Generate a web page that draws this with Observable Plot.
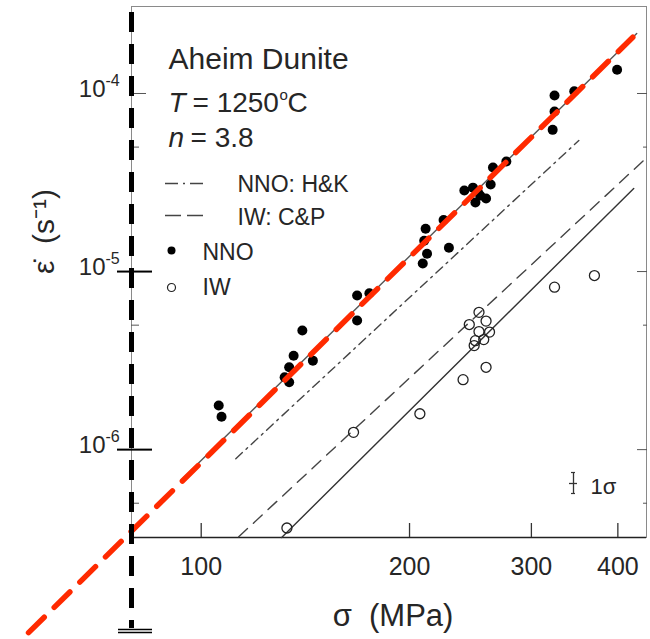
<!DOCTYPE html>
<html><head><meta charset="utf-8">
<script src="https://cdn.jsdelivr.net/npm/d3@7"></script>
<script src="https://cdn.jsdelivr.net/npm/@observablehq/plot@0.6"></script>
<style>body{margin:0;background:#fff;} svg{display:block}</style>
</head><body><div id="chart"></div>
<script>
// Stress (MPa) and strain rate (1/s)
const nnoStress = [106, 107, 132, 134, 134, 136, 140, 145, 168, 175, 168, 211, 210, 212, 209, 228, 224, 240, 247, 251, 253, 249, 258, 262, 264, 276, 324, 346, 324, 322, 399];
const nnoRate = [1.77e-6, 1.53e-6, 2.55e-6, 2.39e-6, 2.90e-6, 3.37e-6, 4.67e-6, 3.16e-6, 7.33e-6, 7.55e-6, 5.31e-6, 1.74e-5, 1.49e-5, 1.26e-5, 1.11e-5, 1.36e-5, 1.95e-5, 2.85e-5, 2.96e-5, 2.81e-5, 2.67e-5, 2.44e-5, 2.57e-5, 3.08e-5, 3.84e-5, 4.15e-5, 9.75e-5, 1.03e-4, 7.92e-5, 6.25e-5, 1.36e-4];
const iwStress = [133, 166, 207, 239, 258, 324, 370, 252, 258, 244, 252, 261, 256, 248, 249];
const iwRate = [3.63e-7, 1.25e-6, 1.59e-6, 2.47e-6, 2.90e-6, 8.17e-6, 9.50e-6, 5.90e-6, 5.27e-6, 5.04e-6, 4.60e-6, 4.57e-6, 4.15e-6, 3.84e-6, 4.09e-6];

// Line end points (stress, rate)
const fitNnoStress = [93.4, 425.9], fitNnoRate = [6.70e-7, 2.17e-4];
const hkStress = [112.2, 351.3], hkRate = [8.89e-7, 5.45e-5];
const cpStress = [113.3, 440.4], cpRate = [3.24e-7, 4.37e-5];
const fitIwStress = [130.7, 421.7], fitIwRate = [3.21e-7, 2.93e-5];
const redStress = [56.3, 420.4], redRate = [9.38e-8, 2.07e-4];

// Axes
const xDomain = [79.3, 440];
const yDomain = [3.21e-7, 3.08e-4];
const xTicks = [100, 200, 300, 400];
const yMajorTicks = [1e-6, 1e-5, 1e-4];
const yMajorExp = ["-6", "-5", "-4"];
const yMinorTicks = [5e-7, 5e-6, 5e-5];

const pts = (S, R) => S.map((s, i) => ({s, r: R[i]}));
const nno = pts(nnoStress, nnoRate);
const iw = pts(iwStress, iwRate);
const ink = "#262626";
const FONT = "'Liberation Sans', Arial, Helvetica, sans-serif";

const note = (text, dx, dy, size, extra = {}) =>
  Plot.text([text], {text: d => d, frameAnchor: "top-left", dx, dy, fontSize: size,
    textAnchor: "start", lineAnchor: "top", fill: ink, ...extra});

const plot = Plot.plot({
  width: 650, height: 639,
  marginLeft: 131, marginRight: 4, marginTop: 6, marginBottom: 102,
  style: {fontFamily: FONT, background: "#fff", color: ink},
  x: {type: "log", domain: xDomain, label: null},
  y: {type: "log", domain: yDomain, label: null},
  marks: [
    Plot.frame({stroke: "#8a8a8a", strokeWidth: 1}),
    Plot.ruleY([yDomain[0]], {stroke: "#222", strokeWidth: 1.4}),
    // x ticks (inward) and labels
    Plot.axisX(xTicks, {anchor: "bottom", tickSize: -14, tickFormat: () => "", label: null, stroke: "#333", strokeWidth: 1.3}),
    Plot.axisX(xTicks, {anchor: "bottom", tickSize: 0, tickPadding: 20, tickFormat: d => String(d), label: null, fontSize: 25, fill: ink}),
    // y ticks
    Plot.axisY([1e-4], {anchor: "left", tickSize: -15, tickFormat: () => "", label: null, stroke: "#555"}),
    Plot.axisY(yMinorTicks, {anchor: "left", tickSize: -8, tickFormat: () => "", label: null, stroke: "#555"}),
    Plot.axisY(yMajorTicks, {anchor: "right", tickSize: -10, tickFormat: () => "", label: null, stroke: "#555"}),
    Plot.axisY(yMinorTicks, {anchor: "right", tickSize: -4, tickFormat: () => "", label: null, stroke: "#555"}),
    Plot.axisY([1e-5, 1e-6], {anchor: "left", tickSize: 14, tickFormat: () => "", label: null, stroke: "#000", strokeWidth: 2}),
    Plot.axisY([1e-5, 1e-6], {anchor: "left", tickSize: -21, tickFormat: () => "", label: null, stroke: "#000", strokeWidth: 2}),
    Plot.text(yMajorTicks, {y: d => d, frameAnchor: "left", text: () => "10", textAnchor: "end", dx: -26, dy: -4, fontSize: 24, fill: ink}),
    Plot.text(yMajorTicks, {y: d => d, frameAnchor: "left", text: (d, i) => yMajorExp[i], textAnchor: "start", dx: -26, dy: -13, fontSize: 16, fill: ink}),
    // axis titles
    Plot.text(["\u03c3\u00a0\u00a0(MPa)"], {text: d => d, frameAnchor: "bottom", dx: 4, dy: 66, lineAnchor: "top", fontSize: 31, fill: ink}),
    Plot.text(["\u03b5\u0307\u00a0\u00a0(s\u207b\u00b9)"], {text: d => d, frameAnchor: "left", dx: -87, dy: 2, rotate: -90, fontSize: 30, fill: ink}),
    // fitted / reference lines
    Plot.line(pts(fitNnoStress, fitNnoRate), {x: "s", y: "r", stroke: "#555", strokeWidth: 1.4}),
    Plot.line(pts(hkStress, hkRate), {x: "s", y: "r", stroke: "#444", strokeWidth: 1.4, strokeDasharray: "9,5,2,5"}),
    Plot.line(pts(cpStress, cpRate), {x: "s", y: "r", stroke: "#444", strokeWidth: 1.4, strokeDasharray: "12,8"}),
    Plot.line(pts(fitIwStress, fitIwRate), {x: "s", y: "r", stroke: "#333", strokeWidth: 1.4}),
    // data
    Plot.dot(iw, {x: "s", y: "r", r: 5, stroke: "#222", strokeWidth: 1.3, fill: "none"}),
    Plot.dot(nno, {x: "s", y: "r", r: 5, fill: "#000"}),
    // red extrapolated line and black dashed marker
    Plot.line(pts(redStress, redRate), {x: "s", y: "r", stroke: "#ff2a00", strokeWidth: 5.5, strokeDasharray: "22,14"}),
    Plot.ruleX([xDomain[0]], {insetTop: 6, insetBottom: -91, stroke: "#000", strokeWidth: 5, strokeDasharray: "20,12"}),
    Plot.ruleY([yDomain[0]], {dy: 92, insetLeft: -13, insetRight: 494, stroke: "#000", strokeWidth: 1.5}),
    Plot.ruleY([yDomain[0]], {dy: 95, insetLeft: -13, insetRight: 494, stroke: "#000", strokeWidth: 1.5}),
    // annotations
    note("Aheim Dunite", 37, 41, 30),
    note("T", 37, 86, 28, {fontStyle: "italic"}),
    note("= 1250", 61, 86, 28),
    note("o", 148, 83, 15),
    note("C", 156, 86, 28),
    note("n", 37, 121, 28, {fontStyle: "italic"}),
    note("= 3.8", 59, 121, 28),
    Plot.ruleY([yDomain[1]], {dy: 177, insetLeft: 34, insetRight: 443, stroke: "#444", strokeWidth: 1.5, strokeDasharray: "13,5,2,5"}),
    note("NNO: H&K", 106, 169, 23),
    Plot.ruleY([yDomain[1]], {dy: 209, insetLeft: 34, insetRight: 441, stroke: "#444", strokeWidth: 1.5, strokeDasharray: "16,6"}),
    note("IW: C&P", 106, 202, 23),
    Plot.dot([0], {frameAnchor: "top-left", dx: 40, dy: 244, r: 4, fill: "#000"}),
    note("NNO", 71, 237, 23),
    Plot.dot([0], {frameAnchor: "top-left", dx: 40, dy: 281, r: 4, fill: "none", stroke: "#222", strokeWidth: 1.2}),
    note("IW", 71, 272, 23),
    // 1 sigma error bar
    Plot.ruleX([xDomain[1]], {dx: -73, insetTop: 466, insetBottom: 44, stroke: "#333", strokeWidth: 1.3}),
    Plot.ruleY([yDomain[0]], {dy: -54, insetLeft: 438, insetRight: 69, stroke: "#333", strokeWidth: 1.3}),
    Plot.ruleY([yDomain[0]], {dy: -65, insetLeft: 440, insetRight: 71, stroke: "#333", strokeWidth: 1.2}),
    Plot.ruleY([yDomain[0]], {dy: -44, insetLeft: 440, insetRight: 71, stroke: "#333", strokeWidth: 1.2}),
    Plot.text(["1\u03c3"], {text: d => d, frameAnchor: "bottom-right", dx: -56, dy: -59, lineAnchor: "top", textAnchor: "start", fontSize: 22, fill: ink})
  ]
});
document.getElementById("chart").append(plot);
</script>
</body></html>
